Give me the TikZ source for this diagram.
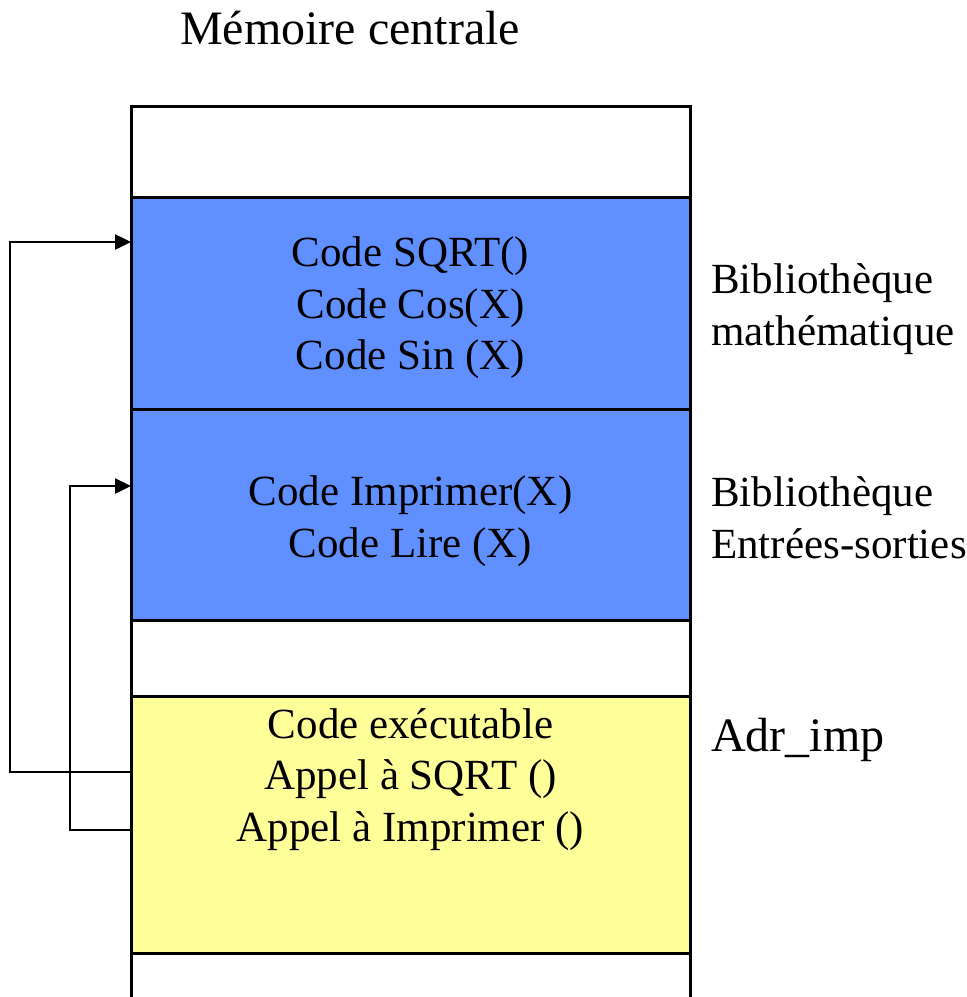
\documentclass[tikz,border=0pt]{standalone}
\usepackage{fontspec}
\setmainfont{Liberation Serif}
\usetikzlibrary{arrows.meta}
\definecolor{libblue}{HTML}{6090FF}
\definecolor{exeyellow}{HTML}{FFFF99}
\tikzset{
  block/.style={draw=black, line width=3pt, minimum width=559pt, inner sep=0pt, outer sep=0pt},
  blocktext/.style={inner sep=0pt, align=center, font=\fontsize{43}{51.5}\selectfont},
  side/.style={anchor=west, inner sep=0pt, align=left, font=\fontsize{43}{51.5}\selectfont},
  link/.style={draw=black, line width=2.5pt, -{Triangle[length=16pt,width=15pt]}},
}
\begin{document}
\begin{tikzpicture}[x=1pt, y=-1pt]
  \useasboundingbox (0,0) rectangle (967,997);
  \clip (0,0) rectangle (967,997);

  \node[font=\fontsize{48}{58}\selectfont, inner sep=0pt] (title) at (350,28) {Mémoire centrale};

  % memory blocks, top to bottom
  \node[block, fill=white, minimum height=91pt] (top) at (410.5,151.5) {};
  \node[block, fill=libblue, minimum height=212pt] (math) at (410.5,303) {};
  \node[block, fill=libblue, minimum height=211pt] (io) at (410.5,514.5) {};
  \node[block, fill=white, minimum height=76pt] (gap) at (410.5,658) {};
  \node[block, fill=exeyellow, minimum height=257pt] (exe) at (410.5,824.5) {};
  \node[block, fill=white, minimum height=87pt] (bottom) at (410.5,996.5) {};

  % contents of the blocks
  \node[blocktext] (mathtext) at (410.5,308) {Code SQRT()\\Code Cos(X)\\Code Sin (X)};
  \node[blocktext] (iotext) at (410.5,521) {Code Imprimer(X)\\Code Lire (X)};
  \node[blocktext, anchor=north] (exetext) at (410.5,708)
    {Code exécutable\\Appel à SQRT ()\\Appel à Imprimer ()};

  % labels on the right
  \node[side] (mathlbl) at (711,309) {Bibliothèque\\mathématique};
  \node[side] (iolbl) at (711,518) {Bibliothèque\\Entrées-sorties};
  \node[side, font=\fontsize{48}{58}\selectfont] (adr) at (711,740) {Adr\_imp};

  % calls from the executable code into the libraries
  \draw[link] ([yshift=52.5pt]exe.west) -- ++(-121,0) |- ([yshift=61pt]math.west);
  \draw[link] ([yshift=-5.5pt]exe.west) -- ++(-61,0) |- ([yshift=28.5pt]io.west);
\end{tikzpicture}
\end{document}
